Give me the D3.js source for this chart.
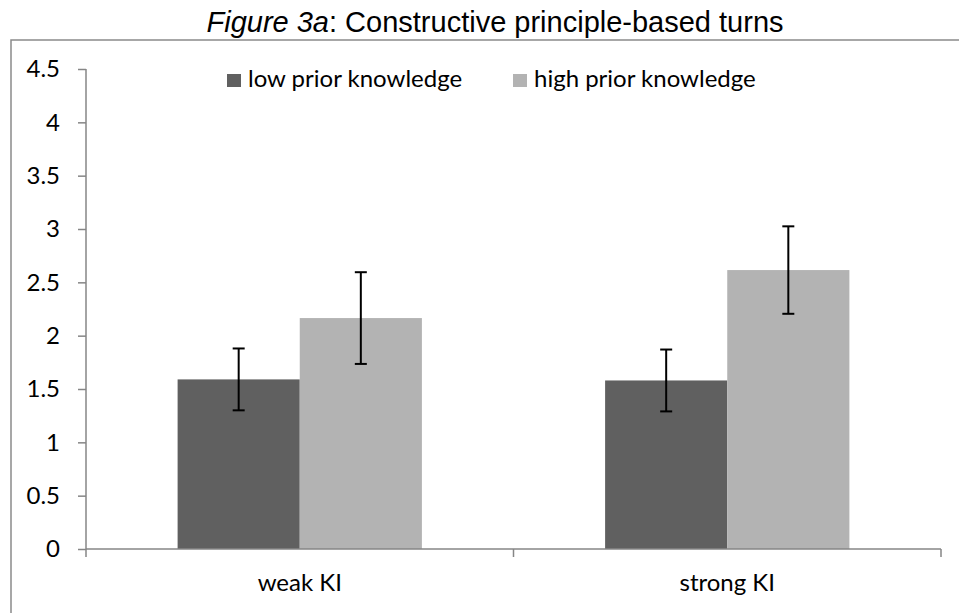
<!DOCTYPE html>
<html>
<head>
<meta charset="utf-8">
<script src="https://cdn.jsdelivr.net/npm/d3@7"></script>
<style>
  body { margin: 0; background: #fff; }
  svg { display: block; }
</style>
</head>
<body>
<svg id="chart" width="959" height="613"></svg>
<script>
// ---- data ----
const categories = ["weak KI", "strong KI"];
const seriesNames = ["low prior knowledge", "high prior knowledge"];
const lowValues = [1.59, 1.58];
const highValues = [2.165, 2.615];
const lowErrors = [0.29, 0.29];
const highErrors = [0.43, 0.41];
const yTicks = [0, 0.5, 1, 1.5, 2, 2.5, 3, 3.5, 4, 4.5];

const seriesColors = ["#606060", "#b3b3b3"];
const values = [lowValues, highValues];
const errors = [lowErrors, highErrors];

const svg = d3.select("#chart");
const labelFont = "Lato, 'Open Sans', sans-serif";
const labelSize = 24;

// chart area border (extends beyond the picture on right and bottom)
svg.append("rect")
  .attr("x", 11).attr("y", 40)
  .attr("width", 1000).attr("height", 700)
  .attr("fill", "none").attr("stroke", "#8a8a8a").attr("stroke-width", 1.5);

// title
const title = svg.append("text")
  .attr("x", 495).attr("y", 32)
  .attr("text-anchor", "middle")
  .attr("font-family", "'Liberation Sans', Arial, sans-serif")
  .attr("font-size", 29)
  .attr("fill", "#000");
title.append("tspan").attr("font-style", "italic").text("Figure 3a");
title.append("tspan").text(": Constructive principle-based turns");

// scales
const x0 = d3.scaleBand().domain(categories).range([86, 941]).paddingInner(0).paddingOuter(0);
const x1 = d3.scaleBand().domain(seriesNames).range([0, x0.bandwidth()]).paddingInner(0).paddingOuter(0.75);
const y = d3.scaleLinear().domain([0, 4.5]).range([549, 69]);

// bars
seriesNames.forEach((s, si) => {
  svg.append("g").selectAll("rect")
    .data(categories)
    .join("rect")
    .attr("x", (c) => x0(c) + x1(s))
    .attr("y", (c, i) => y(values[si][i]))
    .attr("width", x1.bandwidth())
    .attr("height", (c, i) => y(0) - y(values[si][i]))
    .attr("fill", seriesColors[si]);
});

// error bars
seriesNames.forEach((s, si) => {
  const g = svg.append("g").attr("stroke", "#000").attr("stroke-width", 2);
  categories.forEach((c, i) => {
    const cx = x0(c) + x1(s) + x1.bandwidth() / 2;
    const v = values[si][i], e = errors[si][i];
    g.append("line").attr("x1", cx).attr("x2", cx).attr("y1", y(v - e)).attr("y2", y(v + e));
    g.append("line").attr("x1", cx - 6).attr("x2", cx + 6).attr("y1", y(v + e)).attr("y2", y(v + e));
    g.append("line").attr("x1", cx - 6).attr("x2", cx + 6).attr("y1", y(v - e)).attr("y2", y(v - e));
  });
});

// y axis
const yAxis = svg.append("g")
  .attr("transform", "translate(86,0)")
  .call(d3.axisLeft(y).tickValues(yTicks).tickSize(8).tickPadding(18).tickFormat(d3.format("")));
yAxis.select(".domain").attr("stroke", "#868686").attr("stroke-width", 1.5).attr("d", "M0," + y(4.5) + "V" + y(0));
yAxis.selectAll(".tick line").attr("stroke", "#868686").attr("stroke-width", 1.5);
yAxis.selectAll(".tick text").attr("font-family", labelFont).attr("font-size", labelSize).attr("fill", "#000");

// x axis
const xAxis = svg.append("g")
  .attr("transform", "translate(0,549)")
  .call(d3.axisBottom(x0).tickSize(0).tickPadding(25));
xAxis.select(".domain").attr("stroke", "#868686").attr("stroke-width", 1.5).attr("d", "M86,0H941");
xAxis.selectAll(".tick text").attr("font-family", labelFont).attr("font-size", labelSize).attr("fill", "#000");
// category boundary ticks
const boundaries = [86, x0(categories[1]), 941];
xAxis.append("g").selectAll("line").data(boundaries).join("line")
  .attr("x1", d => d).attr("x2", d => d).attr("y1", 0).attr("y2", 8)
  .attr("stroke", "#868686").attr("stroke-width", 1.5);

// legend
const legendX = [227, 513];
const legend = svg.append("g");
seriesNames.forEach((s, si) => {
  legend.append("rect").attr("x", legendX[si]).attr("y", 74).attr("width", 14).attr("height", 13).attr("fill", seriesColors[si]);
  legend.append("text").attr("x", legendX[si] + 21).attr("y", 87)
    .attr("font-family", labelFont).attr("font-size", labelSize).attr("fill", "#000").text(s);
});
</script>
</body>
</html>
